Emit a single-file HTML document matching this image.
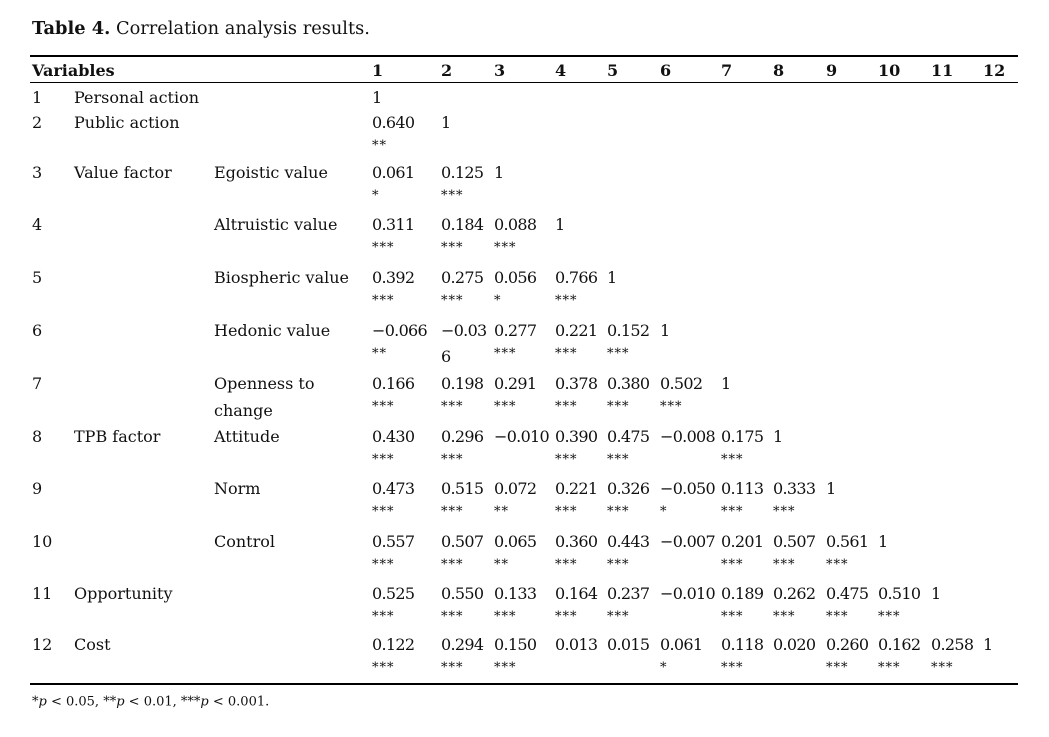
<!DOCTYPE html>
<html><head><meta charset="utf-8"><style>
body{margin:0;width:1049px;height:737px;background:#fff;position:relative;font-family:"DejaVu Serif","Liberation Serif",serif;color:#111;overflow:hidden}
.t{position:absolute;white-space:nowrap;font-size:16px;line-height:1;transform:translateY(-50%)}
.n{letter-spacing:-0.7px}
.s{position:absolute;white-space:nowrap;font-size:13px;line-height:1;transform:translateY(-35%);letter-spacing:1px}
.b{font-weight:bold}
.l{position:absolute;left:30px;width:988px;background:#000}
</style></head><body>
<div class="t" style="left:32px;top:29px;font-size:17.8px"><b>Table 4.</b> Correlation analysis results.</div>
<div class="l" style="top:55px;height:2px"></div>
<div class="l" style="top:82px;height:1px"></div>
<div class="l" style="top:683px;height:2px"></div>
<div class="t" style="left:32px;top:702px;font-size:13px">*<i>p</i> &lt; 0.05, **<i>p</i> &lt; 0.01, ***<i>p</i> &lt; 0.001.</div>
<div id="c"></div>
<script>
var X=[372,441,494,555,607,660,721,773,826,878,931,983];
var Y=[98,123,173,225,278,331,384,437,489,542,594,645];
var h='<div class="t b" style="left:32px;top:71px">Variables</div>';
for(var i=0;i<12;i++)h+='<div class="t b" style="left:'+X[i]+'px;top:71px">'+(i+1)+'</div>';
var L=[["Personal action",""],["Public action",""],["Value factor","Egoistic value"],["","Altruistic value"],["","Biospheric value"],["","Hedonic value"],["","Openness to"],["TPB factor","Attitude"],["","Norm"],["","Control"],["Opportunity",""],["Cost",""]];
var D=[
[],
["0.640**"],
["0.061*","0.125***"],
["0.311***","0.184***","0.088***"],
["0.392***","0.275***","0.056*","0.766***"],
["−0.066**","−0.03|6","0.277***","0.221***","0.152***"],
["0.166***","0.198***","0.291***","0.378***","0.380***","0.502***"],
["0.430***","0.296***","−0.010","0.390***","0.475***","−0.008","0.175***"],
["0.473***","0.515***","0.072**","0.221***","0.326***","−0.050*","0.113***","0.333***"],
["0.557***","0.507***","0.065**","0.360***","0.443***","−0.007","0.201***","0.507***","0.561***"],
["0.525***","0.550***","0.133***","0.164***","0.237***","−0.010","0.189***","0.262***","0.475***","0.510***"],
["0.122***","0.294***","0.150***","0.013","0.015","0.061*","0.118***","0.020","0.260***","0.162***","0.258***"]];
for(var r=0;r<12;r++){
 var y=Y[r];
 h+='<div class="t" style="left:32px;top:'+y+'px">'+(r+1)+'</div>';
 if(L[r][0])h+='<div class="t" style="left:74px;top:'+y+'px">'+L[r][0]+'</div>';
 if(L[r][1])h+='<div class="t" style="left:214px;top:'+y+'px">'+L[r][1]+'</div>';
 var row=D[r].concat(["1"]);
 for(var c=0;c<row.length;c++){
  var v=row[c],st="",ex="";
  if(v.indexOf("|")>=0){ex=v.split("|")[1];v=v.split("|")[0];}
  var m=v.match(/^(.*?)(\*+)$/);if(m){v=m[1];st=m[2];}
  h+='<div class="t n" style="left:'+X[c]+'px;top:'+y+'px">'+v+'</div>';
  if(st)h+='<div class="s" style="left:'+X[c]+'px;top:'+(y+21)+'px">'+st+'</div>';
  if(ex)h+='<div class="t" style="left:'+X[c]+'px;top:'+(y+26)+'px">'+ex+'</div>';
 }
}
h+='<div class="t" style="left:214px;top:411px">change</div>';
document.getElementById("c").innerHTML=h;
</script>
</body></html>
